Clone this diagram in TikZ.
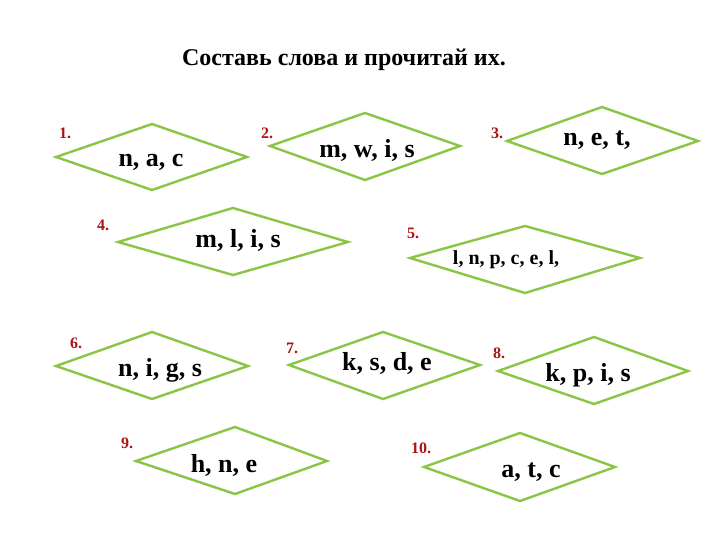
\documentclass[tikz,border=0pt]{standalone}
\usepackage{fontspec}
\setmainfont{Liberation Serif}
\definecolor{lgreen}{RGB}{140,196,70}
\definecolor{dred}{RGB}{170,20,20}
\begin{document}
\begin{tikzpicture}[x=1pt,y=-1pt,
  dia/.style={draw=lgreen, line width=2.4pt, line join=miter, fill=white},
  word/.style={font=\fontsize{26}{28}\selectfont\bfseries, inner sep=0},
  num/.style={font=\fontsize{16}{18}\selectfont\bfseries, text=dred, inner sep=0}]
\useasboundingbox (0,0) rectangle (720,540);
\fill[white] (0,0) rectangle (720,540);
\node[font=\fontsize{24}{26}\selectfont\bfseries] (title) at (344,60) {Составь слова и прочитай их.};
\newcommand{\dmd}[8]{\draw[dia] (#1,#2) -- (#3,#4) -- (#5,#2) -- (#7,#8) -- cycle;}
\dmd{56}{157}{152}{124}{247}{}{152}{190}
\dmd{270}{146}{365}{113}{460}{}{365}{180}
\dmd{507}{141}{602}{107}{698}{}{602}{174}
\dmd{118}{242}{233}{208}{348}{}{233}{275}
\dmd{410}{258}{525}{226}{640}{}{525}{293}
\dmd{56}{366}{152}{332}{248}{}{152}{399}
\dmd{289}{365}{383}{332}{480}{}{383}{399}
\dmd{498}{371}{594}{337}{688}{}{594}{404}
\dmd{136}{461}{235}{427}{327}{}{235}{494}
\dmd{424}{467}{520}{433}{615}{}{520}{501}
\node[word] (w1) at (151,162) {n, a, c};
\node[word] (w2) at (367,150) {m, w, i, s};
\node[word] (w3) at (597,140) {n, e, t,};
\node[word] (w4) at (238,240) {m, l, i, s};
\node[word, font=\fontsize{20}{22}\selectfont\bfseries] (w5) at (506,260) {l, n, p, c, e, l,};
\node[word] (w6) at (160,370) {n, i, g, s};
\node[word] (w7) at (387,363) {k, s, d, e};
\node[word] (w8) at (588,375) {k, p, i, s};
\node[word] (w9) at (224,465) {h, n, e};
\node[word] (w10) at (531,472) {a, t, c};
\node[num] (n1) at (65,133) {1.};
\node[num] (n2) at (267,133) {2.};
\node[num] (n3) at (497,133) {3.};
\node[num] (n4) at (103,225) {4.};
\node[num] (n5) at (413,233) {5.};
\node[num] (n6) at (76,343) {6.};
\node[num] (n7) at (292,348) {7.};
\node[num] (n8) at (499,353) {8.};
\node[num] (n9) at (127,443) {9.};
\node[num] (n10) at (421,448) {10.};
\end{tikzpicture}
\end{document}
